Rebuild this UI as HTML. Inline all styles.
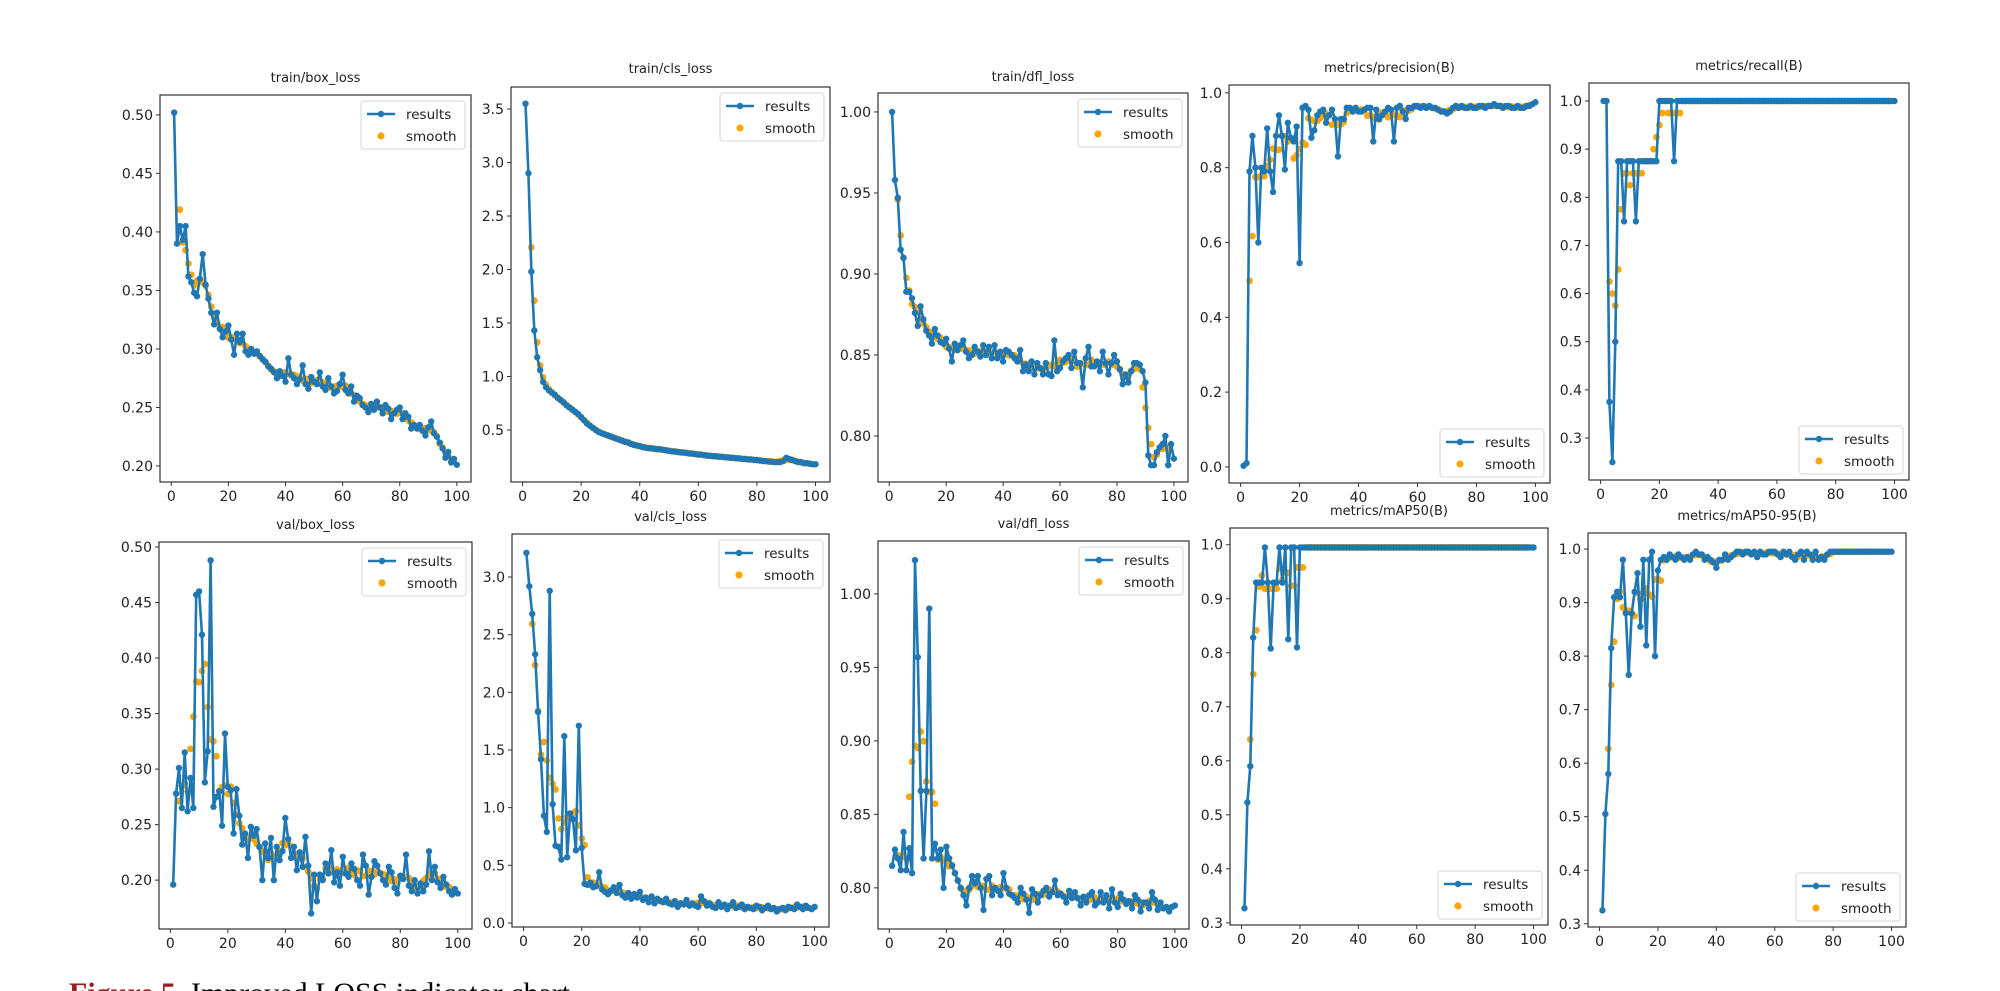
<!DOCTYPE html>
<html><head><meta charset="utf-8">
<style>
html,body{margin:0;padding:0;background:#fff;}
#wrap{position:relative;width:2000px;height:991px;overflow:hidden;background:#fff;}
svg{position:absolute;left:0;top:0;}
#caption{position:absolute;left:69px;top:977px;font-family:"Liberation Serif",serif;font-size:30px;color:#000;white-space:nowrap;}
#caption b{color:#9b1b1b;}
</style></head>
<body>
<div id="wrap">
<svg id="chart" width="2000" height="991"></svg>
<div id="caption"><b>Figure 5.</b> Improved LOSS indicator chart</div>
</div>
<script>
// ---------- data (x = epoch 1..N) ----------
const trainBoxLoss = [0.502,0.390,0.405,0.393,0.405,0.362,0.357,0.348,0.345,0.360,0.381,0.355,0.343,0.331,0.321,0.331,0.317,0.310,0.315,0.320,0.308,0.295,0.313,0.306,0.313,0.298,0.295,0.300,0.296,0.298,0.294,0.291,0.289,0.285,0.283,0.280,0.275,0.281,0.277,0.272,0.292,0.278,0.275,0.270,0.274,0.286,0.270,0.266,0.276,0.272,0.270,0.280,0.268,0.265,0.275,0.268,0.262,0.264,0.270,0.278,0.265,0.262,0.268,0.255,0.260,0.258,0.252,0.250,0.246,0.253,0.248,0.255,0.250,0.245,0.252,0.249,0.240,0.245,0.248,0.250,0.240,0.245,0.242,0.232,0.235,0.232,0.235,0.230,0.226,0.233,0.238,0.228,0.225,0.220,0.215,0.207,0.212,0.203,0.206,0.201];
const trainClsLoss = [3.55,2.90,1.98,1.43,1.18,1.06,0.95,0.90,0.87,0.85,0.83,0.80,0.78,0.76,0.73,0.71,0.69,0.67,0.65,0.62,0.59,0.56,0.54,0.52,0.50,0.48,0.47,0.46,0.45,0.44,0.43,0.42,0.41,0.40,0.39,0.385,0.37,0.36,0.355,0.35,0.34,0.335,0.33,0.33,0.325,0.32,0.32,0.315,0.31,0.305,0.30,0.30,0.295,0.29,0.29,0.285,0.28,0.28,0.275,0.27,0.27,0.265,0.26,0.26,0.255,0.255,0.25,0.25,0.245,0.245,0.24,0.24,0.235,0.235,0.23,0.23,0.225,0.225,0.22,0.22,0.215,0.21,0.21,0.205,0.205,0.20,0.20,0.20,0.21,0.24,0.23,0.22,0.21,0.20,0.20,0.19,0.19,0.185,0.18,0.18];
const trainDflLoss = [1.000,0.958,0.947,0.915,0.910,0.889,0.889,0.885,0.876,0.868,0.880,0.872,0.865,0.862,0.857,0.866,0.862,0.858,0.857,0.860,0.854,0.846,0.857,0.853,0.856,0.859,0.852,0.848,0.850,0.855,0.852,0.849,0.856,0.850,0.855,0.848,0.856,0.848,0.852,0.846,0.853,0.852,0.850,0.848,0.846,0.853,0.840,0.844,0.840,0.846,0.838,0.845,0.842,0.838,0.845,0.838,0.837,0.859,0.840,0.842,0.846,0.848,0.850,0.842,0.852,0.845,0.845,0.830,0.848,0.855,0.843,0.843,0.846,0.840,0.852,0.845,0.838,0.845,0.850,0.846,0.841,0.832,0.838,0.833,0.840,0.845,0.845,0.844,0.840,0.833,0.788,0.782,0.782,0.790,0.793,0.795,0.800,0.782,0.795,0.786];
const precision = [0.003,0.010,0.790,0.885,0.800,0.600,0.800,0.790,0.905,0.790,0.735,0.885,0.940,0.885,0.795,0.920,0.880,0.870,0.910,0.545,0.960,0.965,0.955,0.880,0.900,0.940,0.950,0.955,0.920,0.940,0.955,0.930,0.830,0.930,0.930,0.960,0.960,0.950,0.960,0.950,0.950,0.955,0.960,0.960,0.870,0.955,0.930,0.940,0.950,0.960,0.955,0.870,0.960,0.965,0.950,0.930,0.960,0.960,0.965,0.965,0.960,0.965,0.960,0.965,0.960,0.960,0.955,0.950,0.950,0.945,0.950,0.960,0.965,0.960,0.965,0.960,0.960,0.965,0.960,0.960,0.965,0.965,0.960,0.965,0.965,0.970,0.965,0.965,0.960,0.965,0.965,0.960,0.960,0.965,0.960,0.960,0.965,0.965,0.970,0.975];
const recall = [1,1,0.375,0.25,0.5,0.875,0.875,0.75,0.875,0.875,0.875,0.75,0.875,0.875,0.875,0.875,0.875,0.875,0.875,1,1,1,1,1,0.875,1,1,1,1,1,1,1,1,1,1,1,1,1,1,1,1,1,1,1,1,1,1,1,1,1,1,1,1,1,1,1,1,1,1,1,1,1,1,1,1,1,1,1,1,1,1,1,1,1,1,1,1,1,1,1,1,1,1,1,1,1,1,1,1,1,1,1,1,1,1,1,1,1,1,1];
const valBoxLoss = [0.196,0.278,0.301,0.265,0.315,0.262,0.292,0.265,0.457,0.460,0.421,0.288,0.316,0.488,0.266,0.275,0.280,0.249,0.332,0.284,0.281,0.242,0.282,0.258,0.232,0.242,0.220,0.248,0.240,0.246,0.230,0.200,0.233,0.220,0.238,0.200,0.230,0.218,0.226,0.256,0.237,0.220,0.230,0.209,0.225,0.212,0.239,0.213,0.170,0.205,0.181,0.205,0.200,0.215,0.206,0.227,0.198,0.207,0.195,0.221,0.206,0.203,0.215,0.210,0.200,0.195,0.223,0.213,0.187,0.203,0.217,0.213,0.206,0.200,0.196,0.212,0.207,0.193,0.188,0.204,0.201,0.223,0.195,0.190,0.200,0.188,0.197,0.190,0.196,0.226,0.200,0.212,0.198,0.193,0.203,0.196,0.190,0.187,0.192,0.188];
const valClsLoss = [3.21,2.92,2.68,2.33,1.83,1.42,0.93,0.79,2.88,1.03,0.67,0.66,0.55,1.62,0.57,0.95,0.90,0.63,1.71,0.65,0.34,0.33,0.35,0.31,0.32,0.44,0.29,0.27,0.25,0.28,0.31,0.26,0.33,0.24,0.22,0.26,0.21,0.25,0.22,0.27,0.20,0.22,0.18,0.23,0.17,0.21,0.19,0.18,0.21,0.17,0.16,0.19,0.14,0.17,0.16,0.20,0.15,0.17,0.15,0.14,0.23,0.19,0.15,0.17,0.14,0.13,0.18,0.14,0.16,0.12,0.15,0.18,0.13,0.14,0.16,0.12,0.14,0.13,0.12,0.15,0.14,0.11,0.13,0.15,0.12,0.13,0.10,0.12,0.13,0.11,0.14,0.13,0.12,0.16,0.14,0.12,0.15,0.13,0.12,0.14];
const valDflLoss = [0.815,0.826,0.820,0.812,0.838,0.812,0.827,0.810,1.023,0.957,0.866,0.820,0.866,0.990,0.820,0.830,0.820,0.826,0.800,0.828,0.820,0.815,0.810,0.805,0.800,0.795,0.788,0.800,0.808,0.803,0.808,0.800,0.785,0.806,0.808,0.795,0.800,0.798,0.795,0.810,0.800,0.796,0.795,0.793,0.790,0.800,0.796,0.792,0.783,0.799,0.796,0.790,0.795,0.798,0.800,0.794,0.797,0.805,0.795,0.796,0.794,0.790,0.798,0.793,0.797,0.793,0.788,0.794,0.790,0.795,0.797,0.788,0.790,0.797,0.790,0.795,0.786,0.799,0.790,0.787,0.796,0.792,0.789,0.791,0.786,0.795,0.792,0.784,0.790,0.790,0.786,0.797,0.792,0.785,0.790,0.786,0.787,0.784,0.787,0.788];
const mAP50 = [0.327,0.523,0.590,0.828,0.930,0.930,0.930,0.995,0.930,0.808,0.930,0.930,0.995,0.930,0.995,0.825,0.995,0.995,0.810,0.995,0.995,0.995,0.995,0.995,0.995,0.995,0.995,0.995,0.995,0.995,0.995,0.995,0.995,0.995,0.995,0.995,0.995,0.995,0.995,0.995,0.995,0.995,0.995,0.995,0.995,0.995,0.995,0.995,0.995,0.995,0.995,0.995,0.995,0.995,0.995,0.995,0.995,0.995,0.995,0.995,0.995,0.995,0.995,0.995,0.995,0.995,0.995,0.995,0.995,0.995,0.995,0.995,0.995,0.995,0.995,0.995,0.995,0.995,0.995,0.995,0.995,0.995,0.995,0.995,0.995,0.995,0.995,0.995,0.995,0.995,0.995,0.995,0.995,0.995,0.995,0.995,0.995,0.995,0.995,0.995];
const mAP5095 = [0.325,0.505,0.580,0.815,0.910,0.920,0.910,0.980,0.880,0.765,0.880,0.920,0.955,0.855,0.980,0.820,0.980,0.995,0.800,0.960,0.980,0.985,0.980,0.990,0.985,0.980,0.990,0.985,0.980,0.985,0.980,0.990,0.995,0.990,0.990,0.980,0.985,0.980,0.975,0.965,0.980,0.980,0.990,0.980,0.985,0.990,0.995,0.995,0.990,0.995,0.995,0.990,0.995,0.985,0.995,0.990,0.990,0.995,0.995,0.995,0.990,0.985,0.995,0.990,0.995,0.985,0.980,0.990,0.995,0.980,0.995,0.990,0.980,0.995,0.980,0.985,0.980,0.990,0.995,0.995,0.995,0.995,0.995,0.995,0.995,0.995,0.995,0.995,0.995,0.995,0.995,0.995,0.995,0.995,0.995,0.995,0.995,0.995,0.995,0.995];

const panelTitles = ["train/box_loss","train/cls_loss","train/dfl_loss","metrics/precision(B)","metrics/recall(B)","val/box_loss","val/cls_loss","val/dfl_loss","metrics/mAP50(B)","metrics/mAP50-95(B)"];
const panelSeries = [trainBoxLoss,trainClsLoss,trainDflLoss,precision,recall,valBoxLoss,valClsLoss,valDflLoss,mAP50,mAP5095];
const xTickLabels = [0,20,40,60,80,100];
const yTicks1 = [0.20,0.25,0.30,0.35,0.40,0.45,0.50];
const yTicks2 = [0.5,1.0,1.5,2.0,2.5,3.0,3.5];
const yTicks3 = [0.80,0.85,0.90,0.95,1.00];
const yTicks4 = [0.0,0.2,0.4,0.6,0.8,1.0];
const yTicks5 = [0.3,0.4,0.5,0.6,0.7,0.8,0.9,1.0];
const yTicks7 = [0.0,0.5,1.0,1.5,2.0,2.5,3.0];
const panelYTicks = [yTicks1,yTicks2,yTicks3,yTicks4,yTicks5,yTicks1,yTicks7,yTicks3,yTicks5,yTicks5];

// ---------- layout (pixels, not data) ----------
const layout = [
 {l:160,r:471,t:95,b:482,ymin:0.1863,ymax:0.517,dec:2,leg:'top',ty:82},
 {l:511,r:830,t:87,b:482,ymin:0.014,ymax:3.706,dec:1,leg:'top',ty:73},
 {l:878,r:1188,t:93,b:482,ymin:0.7716,ymax:1.0117,dec:2,leg:'top',ty:81},
 {l:1229,r:1550,t:85,b:483,ymin:-0.043,ymax:1.021,dec:1,leg:'bottom',ty:72},
 {l:1589,r:1909,t:83,b:480,ymin:0.2128,ymax:1.0374,dec:1,leg:'bottom',ty:70},
 {l:159,r:472,t:542,b:929,ymin:0.156,ymax:0.5045,dec:2,leg:'top',ty:529},
 {l:512,r:829,t:534,b:927,ymin:-0.035,ymax:3.373,dec:1,leg:'top',ty:521},
 {l:878,r:1189,t:541,b:929,ymin:0.772,ymax:1.036,dec:2,leg:'top',ty:528},
 {l:1230,r:1548,t:528,b:925,ymin:0.296,ymax:1.031,dec:1,leg:'bottom',ty:515},
 {l:1588,r:1906,t:533,b:927,ymin:0.294,ymax:1.030,dec:1,leg:'bottom',ty:520}
];
const XMIN=-3.95, XMAX=104.95;
const BLUE='#1f77b4', ORANGE='#ffa500';
const NS='http://www.w3.org/2000/svg';
const svg=document.getElementById('chart');

function mk(tag,attrs,parent){const e=document.createElementNS(NS,tag);for(const k in attrs)e.setAttribute(k,attrs[k]);(parent||svg).appendChild(e);return e;}

// centered 5-point moving average (valid region only)
function movingAvg(y){
  const out=[];
  for(let i=2;i<y.length-2;i++){out.push({x:i+1,v:(y[i-2]+y[i-1]+y[i]+y[i+1]+y[i+2])/5});}
  return out;
}

panelSeries.forEach((data,pi)=>{
  const L=layout[pi];
  const g=mk('g',{});
  
  
  const xs=v=>L.l+(v-XMIN)/(XMAX-XMIN)*(L.r-L.l);
  const ys=v=>L.b-(v-L.ymin)/(L.ymax-L.ymin)*(L.b-L.t);
  const tt=mk('text',{x:(L.l+L.r)/2,y:L.ty,'text-anchor':'middle','font-family':'DejaVu Sans, Liberation Sans, sans-serif','font-size':13,fill:'#222'},g);
  tt.textContent=panelTitles[pi];
  
  
  xTickLabels.forEach(v=>{
    const x=xs(v);
    mk('line',{x1:x,x2:x,y1:L.b,y2:L.b+4,stroke:'#333','stroke-width':1},g);
    const t=mk('text',{x:x,y:L.b+19,'text-anchor':'middle','font-family':'DejaVu Sans, Liberation Sans, sans-serif','font-size':14,fill:'#222'},g);
    t.textContent=v;
    
    
  });
  panelYTicks[pi].forEach(v=>{
    const y=ys(v);
    mk('line',{x1:L.l-4,x2:L.l,y1:y,y2:y,stroke:'#333','stroke-width':1},g);
    const t=mk('text',{x:L.l-7,y:y+5,'text-anchor':'end','font-family':'DejaVu Sans, Liberation Sans, sans-serif','font-size':14,fill:'#222'},g);
    t.textContent=v.toFixed(L.dec);
    
    
  });
  const cid='clip'+pi;
  const cp=mk('clipPath',{id:cid},g);mk('rect',{x:L.l,y:L.t,width:L.r-L.l,height:L.b-L.t},cp);
  const pg=mk('g',{'clip-path':'url(#'+cid+')'},g);
  // smooth dots first (underneath)
  movingAvg(data).forEach(p=>{
    const c=mk('circle',{cx:xs(p.x),cy:ys(p.v),r:3.4,fill:ORANGE},pg);
    
    
  });
  const pts=data.map((v,i)=>xs(i+1).toFixed(1)+','+ys(v).toFixed(1)).join(' ');
  const pl=mk('polyline',{points:pts,fill:'none',stroke:BLUE,'stroke-width':2.6,'stroke-linejoin':'round'},pg);
  
  
  data.forEach((v,i)=>{
    const c=mk('circle',{cx:xs(i+1),cy:ys(v),r:3.2,fill:BLUE},pg);
    
    
  });
  mk('rect',{x:L.l,y:L.t,width:L.r-L.l,height:L.b-L.t,fill:'none',stroke:'#333','stroke-width':1.2},g);
  const lw=104,lh=48;
  const lx=L.r-lw-6, ly=(L.leg==='top')?L.t+6:L.b-lh-6;
  const lg=mk('g',{},g);
  
  
  mk('rect',{x:lx,y:ly,width:lw,height:lh,rx:3,fill:'#fff','fill-opacity':0.85,stroke:'#d6d6d6','stroke-width':1},lg);
  mk('line',{x1:lx+6,x2:lx+34,y1:ly+13,y2:ly+13,stroke:BLUE,'stroke-width':2.6},lg);
  mk('circle',{cx:lx+20,cy:ly+13,r:3.2,fill:BLUE},lg);
  mk('circle',{cx:lx+20,cy:ly+35,r:3.6,fill:ORANGE},lg);
  const t1=mk('text',{x:lx+45,y:ly+18,'font-family':'DejaVu Sans, Liberation Sans, sans-serif','font-size':13.5,fill:'#222'},lg);
  t1.textContent='results';
  
  
  const t2=mk('text',{x:lx+45,y:ly+40,'font-family':'DejaVu Sans, Liberation Sans, sans-serif','font-size':13.5,fill:'#222'},lg);
  t2.textContent='smooth';
  
  
});
</script>
</body></html>
